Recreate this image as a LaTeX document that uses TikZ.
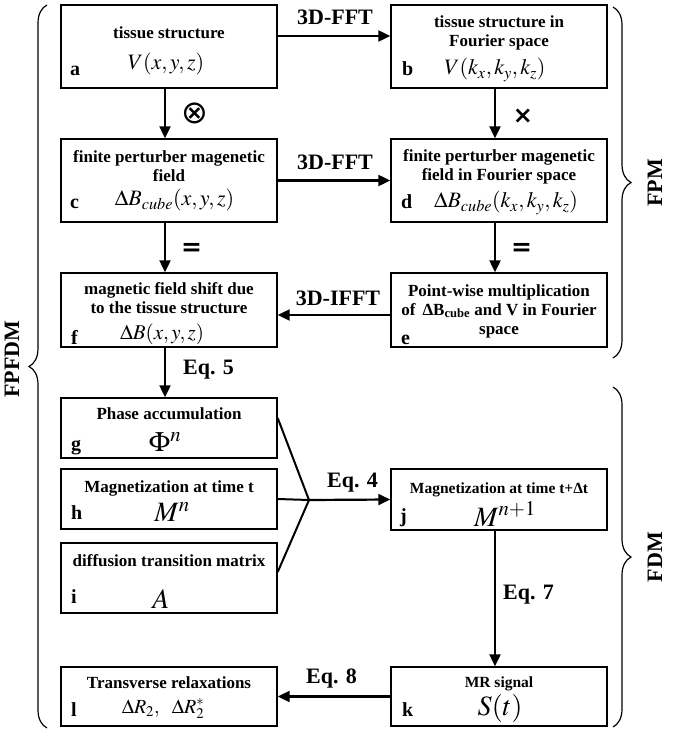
\documentclass[tikz,border=0pt]{standalone}
\usepackage{mathptmx}
\usepackage{fontspec}
\setmainfont{Liberation Serif}
\newfontfamily\symfont{DejaVu Sans}
\usetikzlibrary{arrows.meta,decorations.pathreplacing}

\tikzset{
  blk/.style={draw, line width=1.4pt, minimum width=216pt, inner sep=0pt},
  ttl/.style={font=\fontsize{17}{19}\selectfont\bfseries, align=center, inner sep=0pt},
  sttl/.style={font=\fontsize{15.5}{17}\selectfont\bfseries, align=center, inner sep=0pt},
  eqn/.style={font=\fontsize{22}{22}\selectfont, inner sep=0pt},
  beqn/.style={font=\fontsize{28}{28}\selectfont, inner sep=0pt},
  tag/.style={font=\fontsize{20}{20}\selectfont\bfseries, anchor=base west, inner sep=0pt},
  elab/.style={font=\fontsize{22}{22}\selectfont\bfseries, inner sep=0pt},
  op/.style={inner sep=0pt},
  arr/.style={line width=2.2pt, -{Triangle[length=12pt,width=11pt]}},
  lnk/.style={line width=2pt},
  brc/.style={decorate, decoration={brace, amplitude=18pt}, line width=1.2pt},
  grp/.style={font=\fontsize{22}{22}\selectfont\bfseries, rotate=90, inner sep=0pt},
}

\begin{document}
\begin{tikzpicture}[x=1pt, y=-1pt]
    \useasboundingbox (0,0) rectangle (672,735);

    % Boxes
    \node[blk, minimum height=83pt] (a) at (169,46.5) {};
    \node[blk, minimum height=83pt] (b) at (499,46.5) {};
    \node[blk, minimum height=83pt] (c) at (169,180.5) {};
    \node[blk, minimum height=83pt] (d) at (499,180.5) {};
    \node[blk, minimum height=74pt] (f) at (169,310) {};
    \node[blk, minimum height=74pt] (e) at (499,310) {};
    \node[blk, minimum height=60pt] (g) at (169,428) {};
    \node[blk, minimum height=60pt] (h) at (169,499) {};
    \node[blk, minimum height=70pt] (i) at (169,578) {};
    \node[blk, minimum height=61pt] (j) at (499,499.5) {};
    \node[blk, minimum height=59pt] (k) at (499,696.5) {};
    \node[blk, minimum height=59pt] (l) at (169,696.5) {};

    % Titles
    \node[ttl] (ta) at (169,33) {tissue structure};
    \node[ttl] (tb) at (499,33) {tissue structure in\\Fourier space};
    \node[ttl] (tc) at (169,166.5) {finite perturber magenetic\\field};
    \node[ttl] (td) at (499,166.5) {finite perturber magenetic\\field in Fourier space};
    \node[ttl] (tf) at (169,298) {magnetic field shift due\\to the tissue structure};
    \node[ttl] (te) at (499,311) {Point-wise multiplication\\of \,ΔB\textsubscript{cube} and V in Fourier\\space};
    \node[ttl] (tg) at (169,414) {Phase accumulation};
    \node[ttl] (th) at (169,488) {Magnetization at time t};
    \node[ttl] (ti) at (169,561) {diffusion transition matrix};
    \node[sttl] (tj) at (499,490) {Magnetization at time t+Δt};
    \node[sttl] (tk) at (499,684) {MR signal};
    \node[ttl] (tl) at (169,683) {Transverse relaxations};

    % Formulas
    \node[eqn] (ma) at (166,64) {$V(x,y,z)$};
    \node[eqn] (mb) at (495,70) {$V(k_x,k_y,k_z)$};
    \node[eqn] (mc) at (174.5,200) {$\Delta B_{cube}(x,y,z)$};
    \node[eqn] (md) at (506,203) {$\Delta B_{cube}(k_x,k_y,k_z)$};
    \node[eqn, font=\fontsize{21}{21}\selectfont] (mf) at (162,334) {$\Delta B(x,y,z)$};
    \node[beqn] (mg) at (165,442) {$\Phi^n$};
    \node[beqn] (mh) at (172,512) {$M^n$};
    \node[beqn] (mi) at (161,599) {$A$};
    \node[beqn] (mj) at (505,514) {$M^{n+1}$};
    \node[beqn] (mk) at (500,708) {$S(t)$};
    \node[eqn, font=\fontsize{20}{20}\selectfont] (ml) at (163,709) {$\Delta R_2,\ \ \Delta R_2^*$};

    % Letters
    \node[tag] (la) at (70,76) {a};
    \node[tag] (lb) at (402,76) {b};
    \node[tag] (lc) at (70,209) {c};
    \node[tag] (ld) at (401,209) {d};
    \node[tag] (lf) at (71,344) {f};
    \node[tag] (le) at (401,344) {e};
    \node[tag] (lg) at (71,450) {g};
    \node[tag] (lh) at (71,519) {h};
    \node[tag] (li) at (71,603) {i};
    \node[tag] (lj) at (400,522) {j};
    \node[tag] (lk) at (402,716) {k};
    \node[tag] (ll) at (71,716) {l};

    % Arrows
    \draw[arr] ([yshift=10.5pt]a.east) -- ([yshift=10.5pt]b.west);
    \draw[arr] (c.east) -- (d.west);
    \draw[arr] ([yshift=-5pt]e.west) -- ([yshift=-5pt]f.east);
    \draw[arr] ([xshift=-4pt]a.south) -- ([xshift=-4pt]c.north);
    \draw[arr] ([xshift=-4pt]b.south) -- ([xshift=-4pt]d.north);
    \draw[arr] ([xshift=-4pt]c.south) -- ([xshift=-4pt]f.north);
    \draw[arr] ([xshift=-4pt]d.south) -- ([xshift=-4pt]e.north);
    \draw[arr] ([xshift=-4pt]f.south) -- ([xshift=-4pt]g.north);
    \draw[arr] ([xshift=-4pt]j.south) -- ([xshift=-4pt]k.north);
    \draw[arr] (k.west) -- (l.east);

    % Merge into j
    \coordinate (mrg) at (309,500);
    \draw[lnk] ([yshift=10pt]g.east) -- (mrg);
    \draw[lnk] (h.east) -- (mrg);
    \draw[lnk] ([yshift=6pt]i.east) -- (mrg);
    \draw[arr] (mrg) -- (j.west);

    % Arrow labels
    \node[elab] (fft1) at (335,17.5) {3D-FFT};
    \node[elab] (fft2) at (335,162) {3D-FFT};
    \node[elab] (ifft) at (338,298) {3D-IFFT};
    \node[op, font=\fontsize{32}{32}\selectfont\symfont] (otm) at (195,113) {⊗};
    \node[op, font=\fontsize{24}{24}\selectfont\symfont\bfseries] (tms) at (523,116) {×};
    \node[op, font=\fontsize{25}{25}\selectfont\symfont\bfseries] (eq1) at (191.5,249) {=};
    \node[op, font=\fontsize{25}{25}\selectfont\symfont\bfseries] (eq2) at (521.5,249) {=};
    \node[elab] (eq5) at (208.5,370) {Eq. 5};
    \node[elab] (eq4) at (352.5,483) {Eq. 4};
    \node[elab] (eq7) at (528.5,595) {Eq. 7};
    \node[elab] (eq8) at (331.5,679) {Eq. 8};

    % Braces
    \draw[brc] (47,728) -- (47,5);
    \draw[brc] (613,7) -- (613,358);
    \draw[brc] (613,387) -- (613,727);
    \node[grp] (fpfdm) at (12,359) {FPFDM};
    \node[grp] (fpm) at (655,183) {FPM};
    \node[grp] (fdm) at (655,557) {FDM};
\end{tikzpicture}
\end{document}
